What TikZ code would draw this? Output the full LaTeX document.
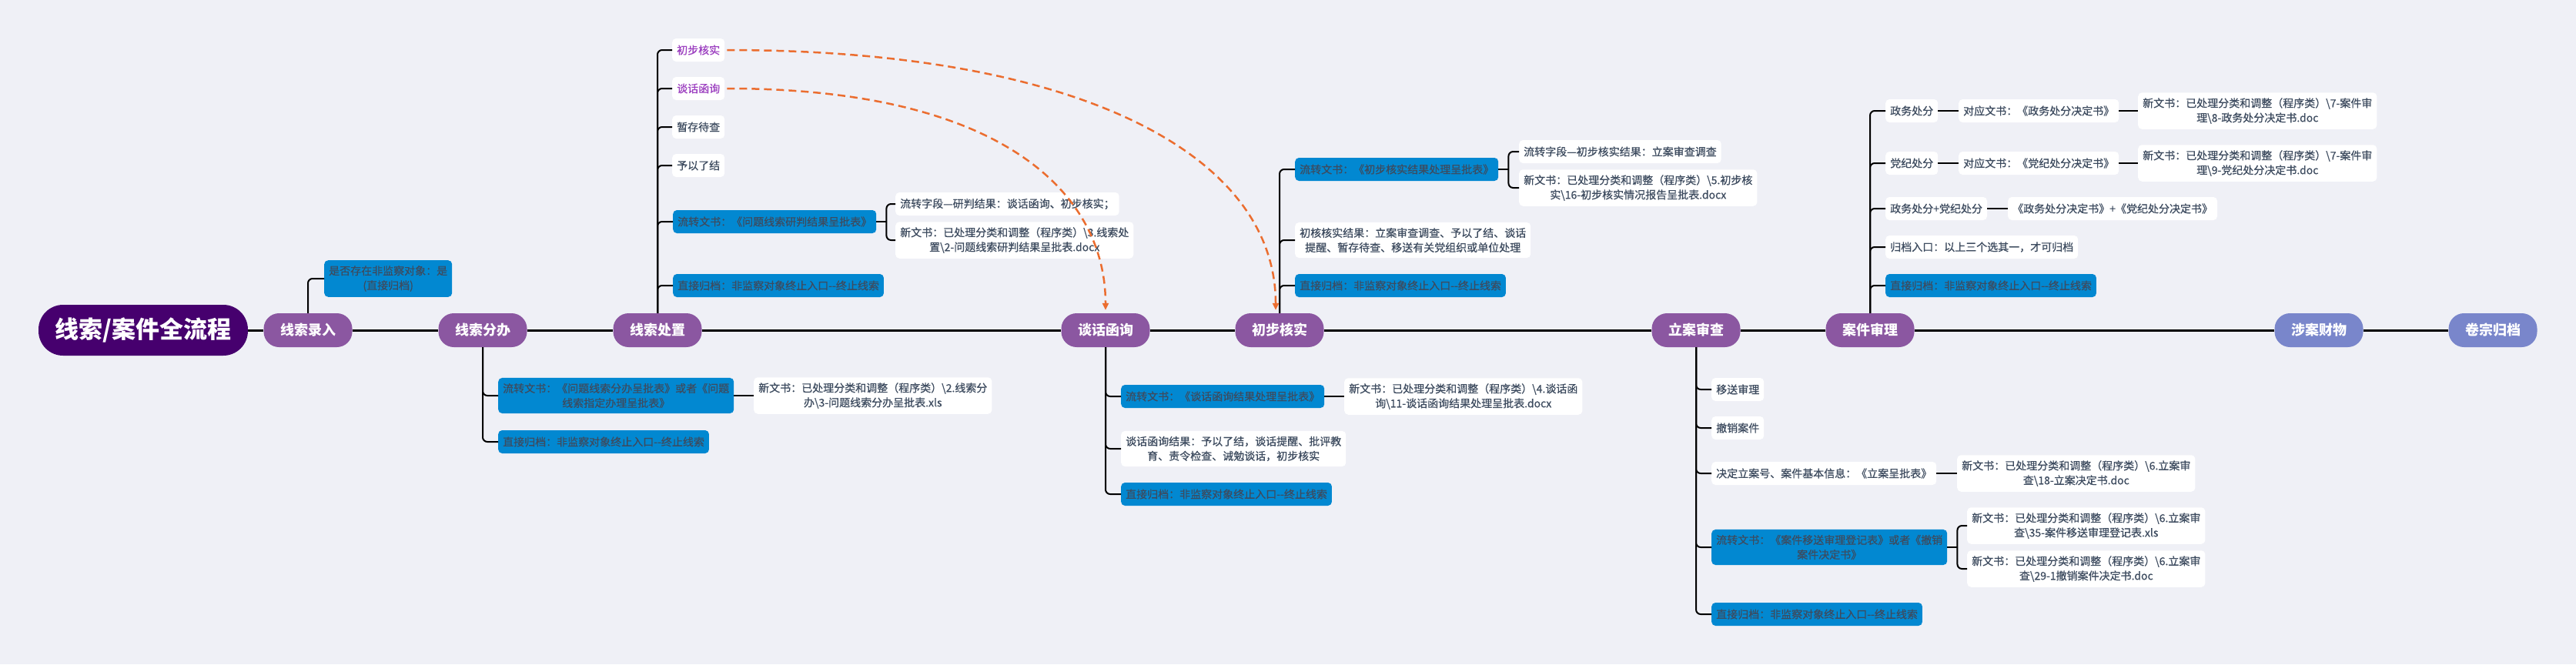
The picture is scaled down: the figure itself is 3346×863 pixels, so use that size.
\documentclass[tikz,border=0pt]{standalone}
\usepackage{fontspec}
\newfontfamily\cjk{Noto Sans CJK SC}
\newfontfamily\cjkm[FakeBold=0.6]{Noto Sans CJK SC}
\usetikzlibrary{arrows.meta}
\definecolor{bg}{HTML}{EFF0F6}
\definecolor{rootc}{HTML}{46006E}
\definecolor{stagec}{HTML}{8B57A1}
\definecolor{laterc}{HTML}{7986CB}
\definecolor{boxblue}{HTML}{0288D1}
\definecolor{txt}{HTML}{3D4B5F}
\definecolor{linkc}{HTML}{9C3FC0}
\definecolor{dashc}{HTML}{EB6D2F}
\newcommand{\bsl}{\textbackslash}

\tikzset{
  rootnode/.style={fill=rootc, text=white, rounded corners=32pt, minimum width=272pt,
    minimum height=66pt, inner sep=0pt, font=\cjk\bfseries\fontsize{31}{36}\selectfont},
  stage/.style={fill=stagec, text=white, rounded corners=20pt, minimum width=115pt,
    minimum height=44pt, inner sep=0pt, font=\cjk\bfseries\fontsize{18}{22}\selectfont},
  later/.style={stage, fill=laterc},
  note/.style={fill=white, text=txt, rounded corners=5pt, inner xsep=6pt, inner ysep=7pt,
    minimum height=30pt, align=center, anchor=west, font=\cjkm\fontsize{14}{19}\selectfont},
  bluenote/.style={note, fill=boxblue},
  linknote/.style={note, text=linkc},
  trunk/.style={line width=3pt},
  branch/.style={line width=2pt, rounded corners=6pt},
  jump/.style={dashc, line width=2.5pt, dash pattern=on 10pt off 6pt, shorten <=3pt,
    shorten >=4pt, -{Triangle[length=9pt,width=8pt]}}
}

\begin{document}
\begin{tikzpicture}[x=1pt,y=-1pt]
% canvas
\useasboundingbox (0,0) rectangle (3346,863);
\fill[bg] (0,0) rectangle (3346,863);

% stages on the main line
\node[rootnode] (root) at (186,429) {线索/案件全流程};
\node[stage] (entry) at (400,429) {线索录入};
\node[stage] (assign) at (627,429) {线索分办};
\node[stage] (dispose) at (854,429) {线索处置};
\node[stage] (talk) at (1436,429) {谈话函询};
\node[stage] (verify) at (1662,429) {初步核实};
\node[stage] (case) at (2203,429) {立案审查};
\node[stage] (trial) at (2429,429) {案件审理};
\node[later] (asset) at (3012,429) {涉案财物};
\node[later] (archive) at (3238,429) {卷宗归档};
\draw[trunk] (root) -- (entry) -- (assign) -- (dispose) -- (talk) -- (verify)
  -- (case) -- (trial) -- (asset) -- (archive);

% 线索录入
\node[bluenote] (e1) at (421,362) {是否存在非监察对象：是\\(直接归档)};
\draw[branch] (entry.north) |- (e1.west);

% 线索分办
\node[bluenote] (a1) at (647,514) {流转文书：《问题线索分办呈批表》或者《问题\\线索指定办理呈批表》};
\node[note] (a11) at (979,514) {新文书：已处理分类和调整（程序类）\bsl{}2.线索分\\办\bsl{}3-问题线索分办呈批表.xls};
\node[bluenote] (a2) at (647,574) {直接归档：非监察对象终止入口-{}-终止线索};
\foreach \c in {a1,a2} \draw[branch] (assign.south) |- (\c.west);
\draw[branch] (a1) -- (a11);

% 线索处置
\node[linknote] (d1) at (873,65) {初步核实};
\node[linknote] (d2) at (873,115) {谈话函询};
\node[note] (d3) at (873,165) {暂存待查};
\node[note] (d4) at (873,215) {予以了结};
\node[bluenote] (d5) at (874,288) {流转文书：《问题线索研判结果呈批表》};
\node[note] (d51) at (1163,265) {流转字段—研判结果：谈话函询、初步核实；};
\node[note] (d52) at (1163,312) {新文书：已处理分类和调整（程序类）\bsl{}3.线索处\\置\bsl{}2-问题线索研判结果呈批表.docx};
\node[bluenote] (d6) at (874,371) {直接归档：非监察对象终止入口-{}-终止线索};
\foreach \c in {d1,d2,d3,d4,d5,d6} \draw[branch] (dispose.north) |- (\c.west);
\draw[branch] (d5.east) -- ++(13,0) coordinate (d5b);
\foreach \c in {d51,d52} \draw[branch] (d5b) |- (\c.west);

% 谈话函询
\node[bluenote] (t1) at (1456,515) {流转文书：《谈话函询结果处理呈批表》};
\node[note] (t11) at (1746,515) {新文书：已处理分类和调整（程序类）\bsl{}4.谈话函\\询\bsl{}11-谈话函询结果处理呈批表.docx};
\node[note] (t2) at (1456,583) {谈话函询结果：予以了结，谈话提醒、批评教\\育、责令检查、诫勉谈话，初步核实};
\node[bluenote] (t3) at (1456,642) {直接归档：非监察对象终止入口-{}-终止线索};
\foreach \c in {t1,t2,t3} \draw[branch] (talk.south) |- (\c.west);
\draw[branch] (t1) -- (t11);

% 初步核实
\node[bluenote] (v1) at (1682,220) {流转文书：《初步核实结果处理呈批表》};
\node[note] (v11) at (1973,197) {流转字段—初步核实结果：立案审查调查};
\node[note] (v12) at (1973,244) {新文书：已处理分类和调整（程序类）\bsl{}5.初步核\\实\bsl{}16-初步核实情况报告呈批表.docx};
\node[note] (v2) at (1682,312) {初核核实结果：立案审查调查、予以了结、谈话\\提醒、暂存待查、移送有关党组织或单位处理};
\node[bluenote] (v3) at (1682,371) {直接归档：非监察对象终止入口-{}-终止线索};
\foreach \c in {v1,v2,v3} \draw[branch] (verify.north) |- (\c.west);
\draw[branch] (v1.east) -- ++(13,0) coordinate (v1b);
\foreach \c in {v11,v12} \draw[branch] (v1b) |- (\c.west);

% 立案审查
\node[note] (c1) at (2223,506) {移送审理};
\node[note] (c2) at (2223,556) {撤销案件};
\node[note] (c3) at (2223,615) {决定立案号、案件基本信息：《立案呈批表》};
\node[note] (c31) at (2542,615) {新文书：已处理分类和调整（程序类）\bsl{}6.立案审\\查\bsl{}18-立案决定书.doc};
\node[bluenote] (c4) at (2223,711) {流转文书：《案件移送审理登记表》或者《撤销\\案件决定书》};
\node[note] (c41) at (2555,683) {新文书：已处理分类和调整（程序类）\bsl{}6.立案审\\查\bsl{}35-案件移送审理登记表.xls};
\node[note] (c42) at (2555,739) {新文书：已处理分类和调整（程序类）\bsl{}6.立案审\\查\bsl{}29-1撤销案件决定书.doc};
\node[bluenote] (c5) at (2223,798) {直接归档：非监察对象终止入口-{}-终止线索};
\foreach \c in {c1,c2,c3,c4,c5} \draw[branch] (case.south) |- (\c.west);
\draw[branch] (c3) -- (c31);
\draw[branch] (c4.east) -- ++(13,0) coordinate (c4b);
\foreach \c in {c41,c42} \draw[branch] (c4b) |- (\c.west);

% 案件审理
\node[note] (r1) at (2449,144) {政务处分};
\node[note] (r11) at (2544,144) {对应文书：《政务处分决定书》};
\node[note] (r12) at (2777,144) {新文书：已处理分类和调整（程序类）\bsl{}7-案件审\\理\bsl{}8-政务处分决定书.doc};
\node[note] (r2) at (2449,212) {党纪处分};
\node[note] (r21) at (2544,212) {对应文书：《党纪处分决定书》};
\node[note] (r22) at (2777,212) {新文书：已处理分类和调整（程序类）\bsl{}7-案件审\\理\bsl{}9-党纪处分决定书.doc};
\node[note] (r3) at (2449,271) {政务处分+党纪处分};
\node[note] (r31) at (2608,271) {《政务处分决定书》+《党纪处分决定书》};
\node[note] (r4) at (2449,321) {归档入口：以上三个选其一，才可归档};
\node[bluenote] (r5) at (2449,371) {直接归档：非监察对象终止入口-{}-终止线索};
\foreach \c in {r1,r2,r3,r4,r5} \draw[branch] (trial.north) |- (\c.west);
\draw[branch] (r1) -- (r11) -- (r12);
\draw[branch] (r2) -- (r21) -- (r22);
\draw[branch] (r3) -- (r31);

% jumps to later stages
\draw[jump] (d1.east) .. controls (1400,65) and (1657,200) .. ([xshift=-5pt]verify.north);
\draw[jump] (d2.east) .. controls (1300,115) and (1436,250) .. (talk.north);

\end{tikzpicture}
\end{document}
